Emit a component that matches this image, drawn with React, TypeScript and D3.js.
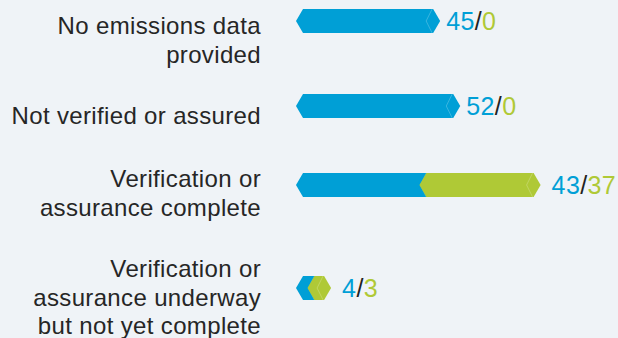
import React from 'react';
import * as d3 from 'd3';

// rows of the chart, top to bottom
const categories = [
  ['No emissions data', 'provided'],
  ['Not verified or assured'],
  ['Verification or', 'assurance complete'],
  ['Verification or', 'assurance underway', 'but not yet complete'],
];
const blueValues = [45, 52, 43, 4];
const greenValues = [0, 0, 37, 3];

// layout (not data): bar centre and first label baseline per row
const barCentres = [21, 106, 185, 288];
const labelBaselines = [34, 124, 187, 277];

const BLUE = '#009fd6';
const GREEN = '#afc936';
const FONT = '"Liberation Sans", Arial, Helvetica, sans-serif';

const width = 618;
const height = 338;
const barH = 24;
const tip = 7;
const tail = 15;

const x = d3.scaleLinear().domain([0, 52]).range([296, 296 + 52 * 2.87]);
const yBar = d3.scaleOrdinal<number, number>().domain(d3.range(categories.length)).range(barCentres);
const yLabel = d3.scaleOrdinal<number, number>().domain(d3.range(categories.length)).range(labelBaselines);

const hexagon = (l: number, r: number, cy: number) => {
  const p = d3.path();
  const t = cy - barH / 2;
  const b = cy + barH / 2;
  p.moveTo(l, cy);
  p.lineTo(l + tip, t);
  p.lineTo(r - tip, t);
  p.lineTo(r, cy);
  p.lineTo(r - tip, b);
  p.lineTo(l + tip, b);
  p.closePath();
  return p.toString();
};

const seam = (r: number, cy: number) =>
  d3.line()([
    [r - tip - 1, cy - barH / 2],
    [r - 2 * tip, cy],
    [r - tip - 1, cy + barH / 2],
  ]) ?? '';

export default function App() {
  return (
    <svg
      width={width}
      height={height}
      style={{ position: 'absolute', left: 0, top: 0, display: 'block' }}
    >
      <rect width={width} height={height} fill="#eff3f7" />
      {categories.map((lines, i) => {
        const cy = yBar(i);
        const blue = blueValues[i];
        const green = greenValues[i];
        const blueR = x(blue) + tail;
        const greenL = x(blue);
        const greenR = x(blue + green) + tail;
        const end = green > 0 ? greenR + 11 : blueR + 6;
        return (
          <g key={i}>
            <text
              textAnchor="end"
              fontFamily={FONT}
              fontSize={24}
              letterSpacing={0.35}
              fill="#262626"
            >
              {lines.map((ln, j) => (
                <tspan key={j} x={261} y={yLabel(i) + j * 28.5}>
                  {ln}
                </tspan>
              ))}
            </text>
            <path d={hexagon(x(0), blueR, cy)} fill={BLUE} />
            <path d={seam(blueR, cy)} fill="none" stroke="#ffffff" strokeOpacity={0.22} />
            {green > 0 && (
              <>
                <path d={hexagon(greenL, greenR, cy)} fill={GREEN} />
                <path d={seam(greenR, cy)} fill="none" stroke="#ffffff" strokeOpacity={0.22} />
              </>
            )}
            <text
              x={end}
              y={cy + 9}
              fontFamily={FONT}
              fontSize={25}
              letterSpacing={0.4}
            >
              <tspan fill={BLUE}>{blue}</tspan>
              <tspan fill="#222">/</tspan>
              <tspan fill={GREEN}>{green}</tspan>
            </text>
          </g>
        );
      })}
    </svg>
  );
}
